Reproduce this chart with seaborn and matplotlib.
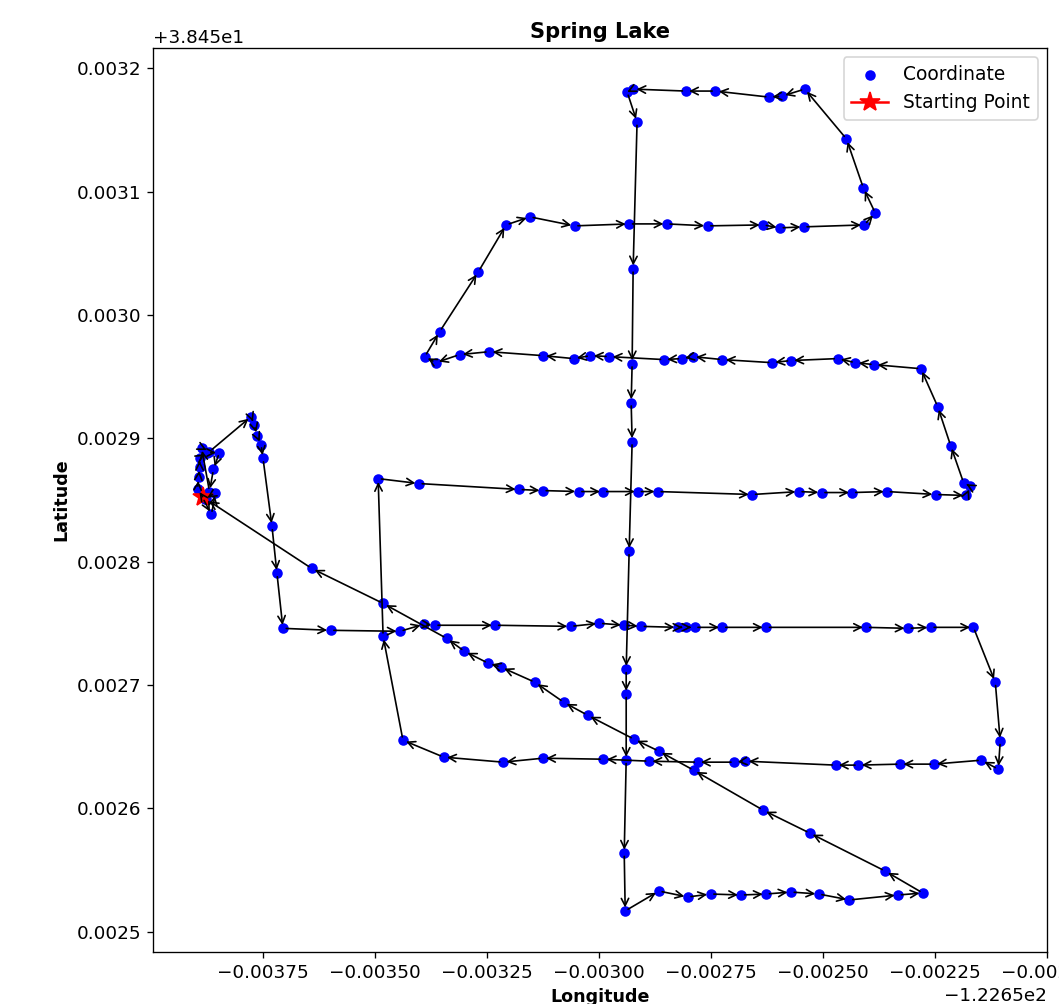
import matplotlib
matplotlib.use("Agg")
import matplotlib.pyplot as plt
import seaborn as sns
import pandas as pd

# Path of recorded coordinates (in travel order)
longitude = [
    # start cluster
    -122.6538859, -122.6538659, -122.6538570, -122.6538814, -122.6538969,
    -122.6538947, -122.6538925, -122.6538925, -122.6538748, -122.6538482,
    -122.6538615, -122.6538703, -122.6538881, -122.6538703,
    # north-east hook and down
    -122.6537773, -122.6537706, -122.6537640, -122.6537551, -122.6537507,
    -122.6537307, -122.6537196, -122.6537063,
    # row at ~0.00275 (eastward)
    -122.6536000, -122.6534448, -122.6533916, -122.6533672, -122.6532320,
    -122.6530636, -122.6529993, -122.6529439, -122.6529063, -122.6528243,
    -122.6528065, -122.6527866, -122.6527245, -122.6526270, -122.6524032,
    -122.6523101, -122.6522591, -122.6521638,
    # east side down
    -122.6521150, -122.6521039, -122.6521083, -122.6521461,
    # row at ~0.00264 (westward)
    -122.6522525, -122.6523278, -122.6524209, -122.6524719, -122.6526735,
    -122.6526979, -122.6527800, -122.6528885, -122.6529905, -122.6531257,
    -122.6532144, -122.6533473, -122.6534382,
    # west side up
    -122.6534825, -122.6534936,
    # row at ~0.00286 (eastward)
    -122.6534027, -122.6531789, -122.6531257, -122.6530459, -122.6529905,
    -122.6529129, -122.6528686, -122.6526580, -122.6525539, -122.6525029,
    -122.6524342, -122.6523566, -122.6522481, -122.6521794, -122.6521705,
    -122.6521860,
    # east side up
    -122.6522148, -122.6522437, -122.6522813,
    # row at ~0.00296 (westward)
    -122.6523854, -122.6524276, -122.6524674, -122.6525716, -122.6526137,
    -122.6527245, -122.6527910, -122.6528154, -122.6528553, -122.6529772,
    -122.6530193, -122.6530570, -122.6531257, -122.6532454, -122.6533118,
    -122.6533650, -122.6533894,
    # north-west diagonal up
    -122.6533562, -122.6532697, -122.6532077, -122.6531545,
    # row at ~0.00307 (eastward)
    -122.6530548, -122.6529329, -122.6528487, -122.6527578, -122.6526337,
    -122.6525960, -122.6525428, -122.6524076, -122.6523832,
    # east side up
    -122.6524098, -122.6524475, -122.6525406,
    # top row (westward)
    -122.6525916, -122.6526204, -122.6527400, -122.6528065, -122.6529240,
    -122.6529373,
    # long southward transect
    -122.6529152, -122.6529240, -122.6529262, -122.6529284, -122.6529262,
    -122.6529329, -122.6529395, -122.6529395, -122.6529395, -122.6529439,
    -122.6529417,
    # bottom row (eastward)
    -122.6528664, -122.6528021, -122.6527511, -122.6526824, -122.6526270,
    -122.6525716, -122.6525096, -122.6524409, -122.6523322, -122.6522769,
    # return diagonal to start
    -122.6523610, -122.6525295, -122.6526337, -122.6527888, -122.6528664,
    -122.6529218, -122.6530259, -122.6530791, -122.6531434, -122.6532188,
    -122.6532476, -122.6533008, -122.6533407, -122.6534825, -122.6536421,
    -122.6538770,
]

latitude = [
    # start cluster
    38.4528520, 38.4528382, 38.4528560, 38.4528504, 38.4528585,
    38.4528682, 38.4528763, 38.4528844, 38.4528884, 38.4528884,
    38.4528747, 38.4528568, 38.4528925, 38.4528892,
    # north-east hook and down
    38.4529176, 38.4529111, 38.4529022, 38.4528949, 38.4528836,
    38.4528285, 38.4527904, 38.4527459,
    # row at ~0.00275 (eastward)
    38.4527443, 38.4527435, 38.4527492, 38.4527484, 38.4527484,
    38.4527475, 38.4527500, 38.4527484, 38.4527475, 38.4527467,
    38.4527467, 38.4527467, 38.4527467, 38.4527467, 38.4527467,
    38.4527459, 38.4527467, 38.4527467,
    # east side down
    38.4527022, 38.4526544, 38.4526317, 38.4526390,
    # row at ~0.00264 (westward)
    38.4526358, 38.4526358, 38.4526350, 38.4526350, 38.4526382,
    38.4526374, 38.4526374, 38.4526382, 38.4526398, 38.4526406,
    38.4526374, 38.4526415, 38.4526552,
    # west side up
    38.4527395, 38.4528673,
    # row at ~0.00286 (eastward)
    38.4528633, 38.4528585, 38.4528576, 38.4528568, 38.4528568,
    38.4528568, 38.4528568, 38.4528544, 38.4528568, 38.4528560,
    38.4528560, 38.4528568, 38.4528544, 38.4528536, 38.4528609,
    38.4528641,
    # east side up
    38.4528941, 38.4529257, 38.4529564,
    # row at ~0.00296 (westward)
    38.4529597, 38.4529613, 38.4529646, 38.4529630, 38.4529613,
    38.4529638, 38.4529662, 38.4529646, 38.4529638, 38.4529662,
    38.4529670, 38.4529646, 38.4529670, 38.4529702, 38.4529678,
    38.4529613, 38.4529662,
    # north-west diagonal up
    38.4529864, 38.4530350, 38.4530730, 38.4530795,
    # row at ~0.00307 (eastward)
    38.4530722, 38.4530738, 38.4530738, 38.4530722, 38.4530730,
    38.4530706, 38.4530714, 38.4530730, 38.4530827,
    # east side up
    38.4531030, 38.4531427, 38.4531831,
    # top row (westward)
    38.4531774, 38.4531766, 38.4531815, 38.4531815, 38.4531831,
    38.4531807,
    # long southward transect
    38.4531564, 38.4530374, 38.4529605, 38.4529289, 38.4528973,
    38.4528083, 38.4527127, 38.4526925, 38.4526390, 38.4525637,
    38.4525168,
    # bottom row (eastward)
    38.4525329, 38.4525281, 38.4525305, 38.4525297, 38.4525305,
    38.4525321, 38.4525305, 38.4525257, 38.4525297, 38.4525313,
    # return diagonal to start
    38.4525491, 38.4525799, 38.4525985, 38.4526309, 38.4526463,
    38.4526560, 38.4526755, 38.4526860, 38.4527022, 38.4527144,
    38.4527176, 38.4527273, 38.4527378, 38.4527661, 38.4527945,
    38.4528504,
]

title = "Spring Lake"
x_limits = (-122.6539965, -122.6519995)

df = pd.DataFrame({"Longitude": longitude, "Latitude": latitude})

plt.rcParams["font.size"] = 11

fig = plt.figure(figsize=(1059 / 120, 1004 / 120), dpi=120)
ax = fig.add_axes([153 / 1059, 1 - 952 / 1004, (1047 - 153) / 1059, (952 - 48) / 1004])

sns.scatterplot(data=df, x="Longitude", y="Latitude", color="blue",
                edgecolor="blue", linewidth=0, s=40, label="Coordinate", ax=ax)

for i in range(len(df) - 1):
    ax.annotate("", xy=(df.Longitude[i + 1], df.Latitude[i + 1]),
                xytext=(df.Longitude[i], df.Latitude[i]),
                arrowprops=dict(arrowstyle="->", color="black", lw=1.0))

ax.plot(df.Longitude[0], df.Latitude[0], "r*-", markersize=12, label="Starting Point")

ax.set_xlim(*x_limits)
ax.set_title(title, fontweight="bold", fontsize=12.6)
ax.set_xlabel("Longitude", fontweight="bold", fontsize=10.5)
ax.set_ylabel("Latitude", fontweight="bold", fontsize=10.5)
ax.legend(loc="upper right", fontsize=11.2)

fig.savefig("out.png", dpi=120)
